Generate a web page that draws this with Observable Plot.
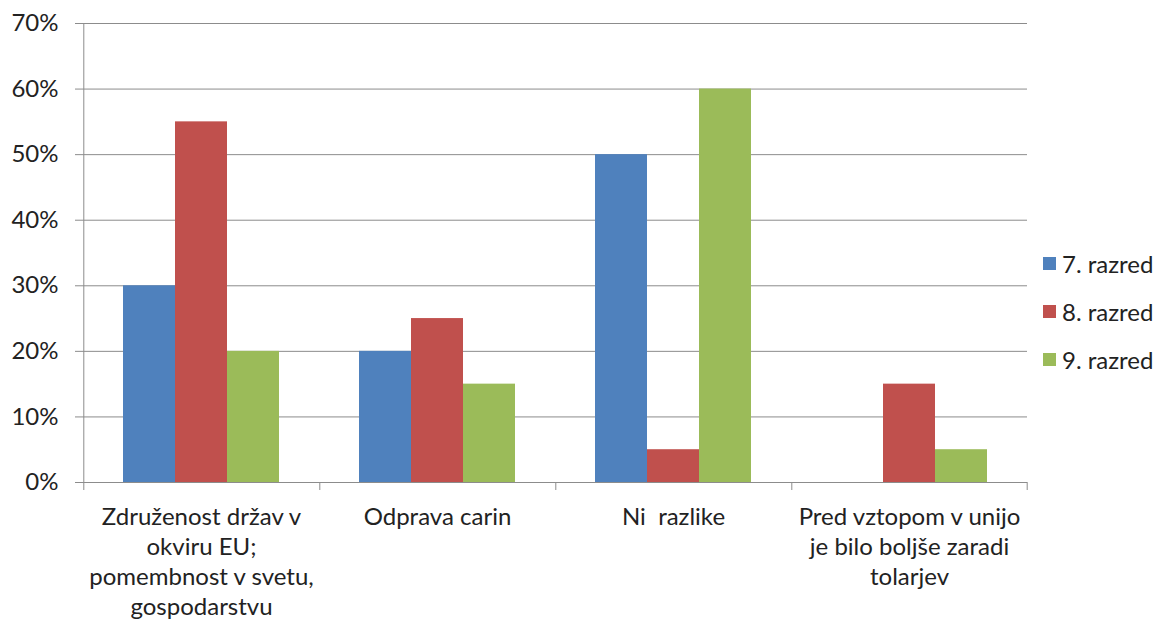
<!DOCTYPE html>
<html>
<head>
<meta charset="utf-8">
<script src="https://cdn.jsdelivr.net/npm/d3@7"></script>
<script src="https://cdn.jsdelivr.net/npm/@observablehq/plot@0.6"></script>
<style>
  body { margin: 0; background: #fff; }
  #wrap { position: relative; width: 1163px; height: 626px; }
  #legend { position: absolute; left: 1043px; top: 239px; font-family: Lato, "Open Sans", sans-serif; font-size: 24px; color: #222; }
  #legend .row { display: flex; align-items: center; height: 48px; }
  #legend .sw { width: 13px; height: 13px; margin-right: 6px; }
</style>
</head>
<body>
<div id="wrap"><div id="legend"></div></div>
<script>
const categories = [
  "Združenost držav v\nokviru EU;\npomembnost v svetu,\ngospodarstvu",
  "Odprava carin",
  "Ni  razlike",
  "Pred vztopom v unijo\nje bilo boljše zaradi\ntolarjev"
];
const series = ["7. razred", "8. razred", "9. razred"];
const razred7 = [0.30, 0.20, 0.50, 0.00];
const razred8 = [0.55, 0.25, 0.05, 0.15];
const razred9 = [0.20, 0.15, 0.60, 0.05];
const colors = ["#4F81BD", "#C0504D", "#9BBB59"];
const yTicks = [0, 0.1, 0.2, 0.3, 0.4, 0.5, 0.6, 0.7];

const values = [razred7, razred8, razred9];
const data = categories.flatMap((c, i) => series.map((s, j) => ({category: c, series: s, value: values[j][i]})));

const W = 1163, H = 626, mL = 82, mR = 135, mT = 23, mB = 144;
const facetW = (W - mL - mR) / categories.length;
const paddingOuter = 0.75;
const step = facetW / (series.length + 2 * paddingOuter);
const edgeOffset = step * (0.5 + paddingOuter);
const tickLen = 8 * 0.7 / (H - mT - mB);
const gridColor = "#8c8c8c";

const chart = Plot.plot({
  width: W, height: H,
  marginLeft: mL, marginRight: mR, marginTop: mT, marginBottom: mB,
  style: {fontFamily: "Lato, 'Open Sans', sans-serif", fontSize: "24px", color: "#222", background: "white", overflow: "visible"},
  fx: {domain: categories, padding: 0, label: null},
  x: {domain: series, paddingInner: 0, paddingOuter: paddingOuter, axis: null},
  y: {domain: [0, 0.7], label: null},
  color: {domain: series, range: colors},
  marks: [
    Plot.gridY(yTicks, {stroke: gridColor, strokeOpacity: 1}),
    Plot.barY(data, {fx: "category", x: "series", y: "value", fill: "series"}),
    Plot.axisY(yTicks, {tickFormat: d3.format(".0%"), tickSize: 8, tickPadding: 17, stroke: gridColor, label: null, fontSize: 24}),
    Plot.ruleX([categories[0]], {fx: d => d, x: () => series[0], dx: -edgeOffset, y1: -tickLen, y2: 0.7, stroke: gridColor}),
    Plot.ruleX(categories.slice(1), {fx: d => d, x: () => series[0], dx: -edgeOffset, y1: -tickLen, y2: 0, stroke: gridColor}),
    Plot.ruleX([categories[categories.length - 1]], {fx: d => d, x: () => series[series.length - 1], dx: edgeOffset, y1: -tickLen, y2: 0, stroke: gridColor}),
    Plot.axisFx({anchor: "bottom", tickSize: 0, tickPadding: 21, lineHeight: 1.25, label: null, fontSize: 24})
  ]
});
document.getElementById("wrap").prepend(chart);

const legend = document.getElementById("legend");
series.forEach((s, i) => {
  const row = document.createElement("div");
  row.className = "row";
  row.innerHTML = `<div class="sw" style="background:${colors[i]}"></div><span>${s}</span>`;
  legend.appendChild(row);
});
</script>
</body>
</html>
